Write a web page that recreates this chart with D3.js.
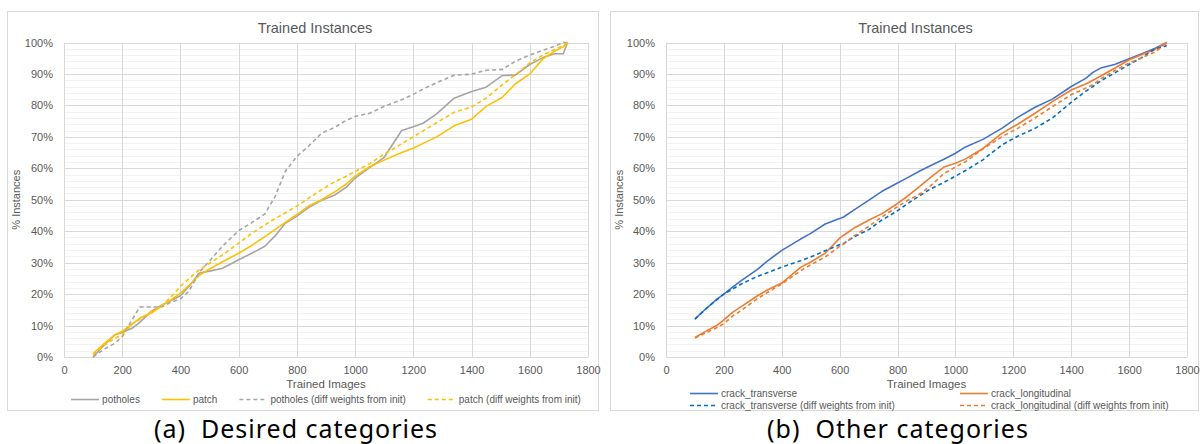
<!DOCTYPE html>
<html>
<head>
<meta charset="utf-8">
<script src="https://cdn.jsdelivr.net/npm/d3@7"></script>
<style>
  body { margin: 0; background: #fff; }
  svg { display: block; }
  text { font-family: "Liberation Sans", Arial, sans-serif; }
</style>
</head>
<body>
<svg id="chart" width="1201" height="444"></svg>
<script>
'use strict';

// --- data: (a) desired categories ---
var leftImages = [100, 135, 175, 200, 235, 260, 300, 335, 365, 400, 430, 465, 500, 545, 600, 645, 690, 725, 760, 800,
  840, 885, 930, 970, 1000, 1050, 1100, 1160, 1200, 1235, 1280, 1340, 1400, 1450, 1505, 1550, 1600, 1645, 1685, 1715, 1730];
var potholes = [0, 3.5, 7.1, 7.8, 9.2, 11, 14.5, 16.5, 17.8, 19.5, 22.5, 26.7, 27.3, 28.2, 30.9, 33, 35.2, 38.5, 42.5, 44.8,
  47.5, 49.8, 51.5, 54, 56.9, 60.2, 63.5, 72, 73.2, 74.4, 77.3, 82.3, 84.4, 85.8, 89.5, 89.6, 93, 95.2, 96.4, 96.4, 100];
var patch = [1.1, 4, 7, 8.2, 10.5, 12.3, 14, 16.2, 18, 20.3, 22.8, 26, 28, 30.3, 33, 35.5, 38.3, 40.5, 42.8, 45.3,
  48, 50, 52.5, 55, 57.5, 60.5, 62.6, 65, 66.4, 68, 70, 73.5, 75.6, 79.7, 82.5, 86.8, 90, 94.8, 97.2, 98.6, 100];
var potholesInit = [0, 2.3, 4.4, 6.5, 12, 15.9, 15.9, 15.9, 17.3, 18.5, 21, 27, 30.5, 35.3, 40.2, 42.7, 45.5, 51, 59, 63.8,
  67, 71.2, 73, 75.3, 76.5, 77.5, 79.7, 81.8, 83.5, 85.3, 87.2, 89.6, 89.9, 91.2, 91.4, 94, 96, 97.5, 98.8, 100, 100];
var patchInit = [0.7, 3.5, 6, 7.1, 10.5, 12, 14.5, 16.3, 18.8, 22.5, 25, 27.8, 29.8, 32.5, 36.2, 39.3, 42, 44, 45.8, 48,
  50.5, 53.2, 55.7, 57.5, 59, 61.5, 64.5, 67.8, 70, 72, 74.5, 77.8, 79.5, 82.3, 86.5, 89.7, 93.5, 96, 97.8, 99, 100];

// --- data: (b) other categories ---
var rightImages = [100, 140, 175, 200, 230, 260, 315, 350, 400, 465, 500, 550, 600, 615, 650, 700, 745, 795, 830, 880,
  915, 960, 1000, 1035, 1095, 1160, 1215, 1275, 1335, 1400, 1450, 1475, 1505, 1550, 1600, 1640, 1690, 1730];
var crackTransverse = [12.1, 15.5, 18.3, 20, 22.2, 24.3, 27.8, 30.5, 33.9, 37.5, 39.3, 42.3, 44, 44.6, 46.8, 49.8, 52.6, 55.1, 56.8, 59.3,
  60.9, 62.9, 64.8, 66.8, 69.2, 72.7, 76.2, 79.4, 82, 86, 88.6, 90.5, 92, 93, 94.8, 96.3, 98.2, 100];
var crackLongitudinal = [6.2, 8.3, 10, 11.8, 14.2, 16, 19.4, 21.3, 23.5, 28.5, 30.2, 33, 37.8, 38.8, 41, 43.5, 45.5, 48.5, 50.8, 54.5,
  57.2, 60.4, 61.6, 63, 66.3, 71.1, 74, 77.5, 81.2, 84.9, 86.8, 88, 89.5, 91.8, 94.5, 96, 97.8, 100];
var crackTransverseInit = [12, 15.5, 18.2, 20, 21.6, 23.2, 25.6, 26.8, 28.6, 30.6, 31.8, 33.8, 35.7, 36.2, 38.2, 40.5, 43.5, 46.2, 48.5, 51.5,
  53.5, 55.5, 57.5, 59.3, 62.7, 67.4, 70.2, 72.7, 76, 81, 84.5, 86, 88, 90.3, 93, 95, 98, 99];
var crackLongitudinalInit = [6, 7.8, 9.3, 10.6, 13, 14.8, 18.5, 20.5, 23.2, 27.4, 29.3, 31.8, 35.2, 36, 38.5, 41.5, 44.5, 47.5, 49.5, 52,
  54.5, 58.3, 60.4, 62.1, 66.2, 70, 72.7, 76, 79.6, 83.4, 85.5, 86.6, 88.6, 91, 93.5, 95, 97, 99.8];

var xTicks = [0, 200, 400, 600, 800, 1000, 1200, 1400, 1600, 1800];
var yTicks = [0, 10, 20, 30, 40, 50, 60, 70, 80, 90, 100];

var svg = d3.select('#chart');
var textColor = '#595959';

function drawPanel(cfg) {
  var g = svg.append('g');
  var x = d3.scaleLinear().domain([0, 1800]).range([cfg.left, cfg.right]);
  var y = d3.scaleLinear().domain([0, 100]).range([357, 42.5]);

  // chart frame
  g.append('rect')
    .attr('x', cfg.boxLeft + 0.5).attr('y', 11.5)
    .attr('width', cfg.boxRight - cfg.boxLeft).attr('height', 399)
    .attr('fill', '#fff').attr('stroke', '#d9d9d9');

  // minor gridlines every 2%
  g.append('g').selectAll('line')
    .data(d3.range(2, 100, 2).filter(function(v) { return v % 10 !== 0; }))
    .enter().append('line')
    .attr('x1', cfg.left).attr('x2', cfg.right)
    .attr('y1', function(d) { return Math.round(y(d)) + 0.5; })
    .attr('y2', function(d) { return Math.round(y(d)) + 0.5; })
    .attr('stroke', '#f2f2f2');

  // major gridlines
  g.append('g').selectAll('line')
    .data(yTicks)
    .enter().append('line')
    .attr('x1', cfg.left).attr('x2', cfg.right)
    .attr('y1', function(d) { return Math.round(y(d)) + 0.5; })
    .attr('y2', function(d) { return Math.round(y(d)) + 0.5; })
    .attr('stroke', '#d9d9d9');
  g.append('g').selectAll('line')
    .data(xTicks)
    .enter().append('line')
    .attr('x1', function(d) { return Math.round(x(d)) + 0.5; })
    .attr('x2', function(d) { return Math.round(x(d)) + 0.5; })
    .attr('y1', y(100)).attr('y2', y(0))
    .attr('stroke', '#d9d9d9');

  // axes (labels only, Excel style)
  var xAxis = g.append('g')
    .attr('transform', 'translate(0,' + y(0) + ')')
    .call(d3.axisBottom(x).tickValues(xTicks).tickSize(0).tickPadding(9)
      .tickFormat(d3.format('d')));
  var yAxis = g.append('g')
    .attr('transform', 'translate(' + cfg.left + ',0)')
    .call(d3.axisLeft(y).tickValues(yTicks).tickSize(0).tickPadding(11)
      .tickFormat(function(d) { return d + '%'; }));
  [xAxis, yAxis].forEach(function(a) {
    a.select('.domain').remove();
    a.selectAll('text')
      .attr('fill', textColor)
      .style('font-family', '"Liberation Sans", Arial, sans-serif')
      .style('font-size', '11px');
  });

  // lines
  var line = d3.line()
    .x(function(d) { return x(d[0]); })
    .y(function(d) { return y(d[1]); });
  cfg.series.forEach(function(s) {
    g.append('path')
      .datum(d3.zip(cfg.images, s.values))
      .attr('fill', 'none')
      .attr('stroke', s.color)
      .attr('stroke-width', 1.6)
      .attr('stroke-linejoin', 'round')
      .attr('stroke-dasharray', s.dashed ? '4,3' : null)
      .attr('d', line);
  });

  // titles
  var mid = (cfg.left + cfg.right) / 2;
  g.append('text')
    .attr('x', mid - 11).attr('y', 33)
    .attr('text-anchor', 'middle')
    .attr('fill', textColor)
    .style('font-size', '14.5px')
    .text('Trained Instances');
  g.append('text')
    .attr('x', mid).attr('y', 388)
    .attr('text-anchor', 'middle')
    .attr('fill', textColor)
    .style('font-size', '11.5px')
    .text('Trained Images');
  g.append('text')
    .attr('transform', 'translate(' + (cfg.boxLeft + 13) + ',' + ((y(0) + y(100)) / 2) + ') rotate(-90)')
    .attr('text-anchor', 'middle')
    .attr('fill', textColor)
    .style('font-size', '11px')
    .text('% Instances');

  // legend
  var leg = g.append('g');
  cfg.series.forEach(function(s) {
    var item = leg.append('g').attr('class', 'item');
    item.append('line')
      .attr('x1', 0).attr('x2', 28)
      .attr('y1', 0).attr('y2', 0)
      .attr('stroke', s.color)
      .attr('stroke-width', 1.6)
      .attr('stroke-dasharray', s.dashed ? '4,3' : null);
    item.append('text')
      .attr('x', 31).attr('y', 3.5)
      .attr('fill', textColor)
      .style('font-size', '10px')
      .text(s.name);
  });
  var items = leg.selectAll('g.item').nodes();
  if (cfg.legendRows === 1) {
    var widths = items.map(function(n) { return n.getBBox().width; });
    var gap = 22;
    var total = d3.sum(widths) + gap * (items.length - 1);
    var cx = mid - total / 2;
    items.forEach(function(n, i) {
      d3.select(n).attr('transform', 'translate(' + cx + ',399.5)');
      cx += widths[i] + gap;
    });
  } else {
    items.forEach(function(n, i) {
      var col = i % 2, row = Math.floor(i / 2);
      d3.select(n).attr('transform',
        'translate(' + (cfg.left + 24 + col * 270) + ',' + (393.5 + row * 12) + ')');
    });
  }

  // caption
  svg.append('text')
    .attr('x', cfg.captionX).attr('y', 438)
    .attr('text-anchor', 'middle')
    .attr('fill', '#000')
    .style('font-family', '"Noto Sans", "Open Sans", sans-serif')
    .style('font-size', '25px')
    .style('letter-spacing', '1px')
    .attr('xml:space', 'preserve')
    .text(cfg.caption);
}

drawPanel({
  boxLeft: 7, boxRight: 598, left: 64, right: 588,
  images: leftImages,
  legendRows: 1,
  captionX: 296,
  caption: '(a)  Desired categories',
  series: [
    { name: 'potholes', values: potholes, color: '#a5a5a5', dashed: false },
    { name: 'patch', values: patch, color: '#ffc000', dashed: false },
    { name: 'potholes (diff weights from init)', values: potholesInit, color: '#a5a5a5', dashed: true },
    { name: 'patch (diff weights from init)', values: patchInit, color: '#ffc000', dashed: true }
  ]
});

drawPanel({
  boxLeft: 610, boxRight: 1198, left: 666, right: 1187,
  images: rightImages,
  legendRows: 2,
  captionX: 898,
  caption: '(b)  Other categories',
  series: [
    { name: 'crack_transverse', values: crackTransverse, color: '#4472c4', dashed: false },
    { name: 'crack_longitudinal', values: crackLongitudinal, color: '#ed7d31', dashed: false },
    { name: 'crack_transverse (diff weights from init)', values: crackTransverseInit, color: '#0070c0', dashed: true },
    { name: 'crack_longitudinal (diff weights from init)', values: crackLongitudinalInit, color: '#ed7d31', dashed: true }
  ]
});
</script>
</body>
</html>
